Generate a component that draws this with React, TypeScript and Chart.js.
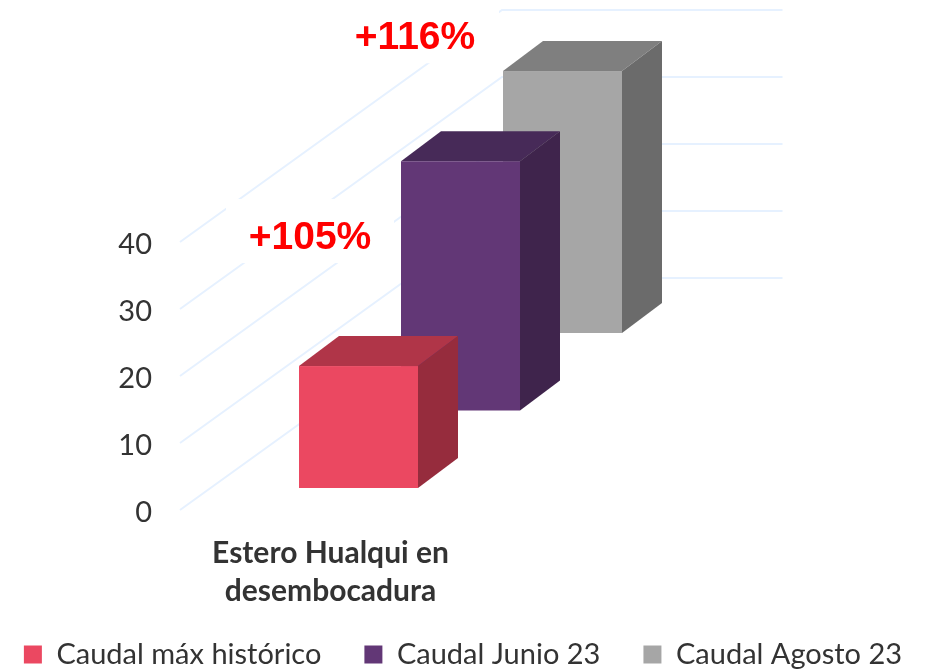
import React, { useEffect, useRef } from "react";
import { Chart, registerables } from "chart.js";

Chart.register(...registerables);

const categories = [["Estero Hualqui en", "desembocadura"]];
const seriesNames = ["Caudal máx histórico", "Caudal Junio 23", "Caudal Agosto 23"];
const seriesValues = [18.2, 37.2, 39.1];
const frontColors = ["#EB4861", "#623776", "#A6A6A6"];
const topColors = ["#B03548", "#472A58", "#7F7F7F"];
const sideColors = ["#962C3D", "#3F244C", "#6B6B6B"];
const annotations = ["", "+105%", "+116%"];
const tickValues = [0, 10, 20, 30, 40];

const TEXT = "#333333";
const SANS = "Lato, 'Open Sans', sans-serif";
const OVERHANG = 60;

const bar3d = {
  id: "bar3d",
  beforeDatasetsDraw(chart: any) {
    const { ctx, scales } = chart;
    const xc = scales.x.getPixelForValue(0);
    const y = scales.y;
    const left = chart.chartArea.left;
    ctx.save();
    ctx.strokeStyle = "#E6F1FF";
    ctx.lineWidth = 2;
    tickValues.forEach((v) => {
      const py = y.getPixelForValue(v);
      ctx.beginPath();
      ctx.moveTo(left, py);
      ctx.lineTo(left + 322, py - 232);
      ctx.lineTo(xc + 452, py - 232);
      ctx.stroke();
    });
    annotations.forEach((label, i) => {
      if (!label) return;
      const prev = i - 1;
      const cx = xc - 31.5 + 11 + 105 * prev;
      const top = y.getPixelForValue(seriesValues[prev]) - (22 + 77.5 * prev);
      const cy = top - 128 + 5 * prev;
      ctx.fillStyle = "#FFFFFF";
      ctx.fillRect(cx - 84, cy - 39, 168, 64);
      ctx.fillStyle = "#FF0000";
      ctx.font = "bold 39px 'Liberation Sans', Arial, sans-serif";
      ctx.textAlign = "center";
      ctx.textBaseline = "middle";
      ctx.fillText(label, cx, cy);
    });
    ctx.restore();
  },
  beforeDatasetDraw(chart: any, args: any) {
    const i = args.index;
    const { ctx, scales } = chart;
    const xc = scales.x.getPixelForValue(0);
    const y = scales.y;
    const w = 119;
    const dx = 40;
    const dy = 30;
    const x0 = xc - 31.5 + 102 * i;
    const lift = 22 + 77.5 * i;
    const bottom = y.getPixelForValue(0) - lift;
    const top = y.getPixelForValue(seriesValues[i]) - lift;
    ctx.save();
    ctx.fillStyle = topColors[i];
    ctx.beginPath();
    ctx.moveTo(x0, top);
    ctx.lineTo(x0 + dx, top - dy);
    ctx.lineTo(x0 + w + dx, top - dy);
    ctx.lineTo(x0 + w, top);
    ctx.closePath();
    ctx.fill();
    ctx.fillStyle = sideColors[i];
    ctx.beginPath();
    ctx.moveTo(x0 + w, top);
    ctx.lineTo(x0 + w + dx, top - dy);
    ctx.lineTo(x0 + w + dx, bottom - dy);
    ctx.lineTo(x0 + w, bottom);
    ctx.closePath();
    ctx.fill();
    ctx.fillStyle = frontColors[i];
    ctx.fillRect(x0, top, w, bottom - top);
    ctx.restore();
    return false;
  },
};

export default function App() {
  const ref = useRef<HTMLCanvasElement>(null);
  useEffect(() => {
    const chart = new Chart(ref.current!, {
      type: "bar",
      data: {
        labels: categories as any,
        datasets: seriesNames.map((name, i) => ({
          label: name,
          data: [seriesValues[i]],
          backgroundColor: frontColors[i],
          borderWidth: 0,
        })),
      },
      options: {
        responsive: false,
        animation: false,
        layout: { padding: { top: 242, left: -OVERHANG, right: -OVERHANG, bottom: 0 } },
        plugins: {
          tooltip: { enabled: false },
          legend: {
            position: "bottom",
            maxHeight: 74,
            labels: {
              boxWidth: 18,
              boxHeight: 18,
              padding: 43,
              color: TEXT,
              font: { family: SANS, size: 29 },
            },
          },
        },
        scales: {
          x: {
            grid: { display: false, drawTicks: false },
            border: { display: false },
            ticks: {
              color: TEXT,
              padding: 24,
              maxRotation: 0,
              autoSkip: false,
              font: { family: SANS, size: 30, weight: "bold", lineHeight: 1.27 },
            },
            afterFit: (s: any) => {
              s.height = 87;
              s._computeLabelArea = () => undefined;
            },
          },
          y: {
            min: 0,
            max: 40,
            grid: { display: false, drawTicks: false },
            border: { display: false },
            ticks: {
              stepSize: 10,
              color: TEXT,
              padding: 28,
              labelOffset: 3,
              font: { family: SANS, size: 29 },
            },
            afterFit: (s: any) => {
              s.width = 180 + OVERHANG;
            },
          },
          pad: {
            position: "right",
            display: true,
            grid: { display: false, drawTicks: false },
            border: { display: false },
            ticks: { display: false },
            afterFit: (s: any) => {
              s.width = 445 + OVERHANG;
            },
          },
        },
      } as any,
      plugins: [bar3d],
    });
    return () => chart.destroy();
  }, []);
  return (
    <div style={{ position: "absolute", left: 0, top: 0 }}>
      <canvas ref={ref} width={926} height={671} style={{ display: "block" }} />
    </div>
  );
}
